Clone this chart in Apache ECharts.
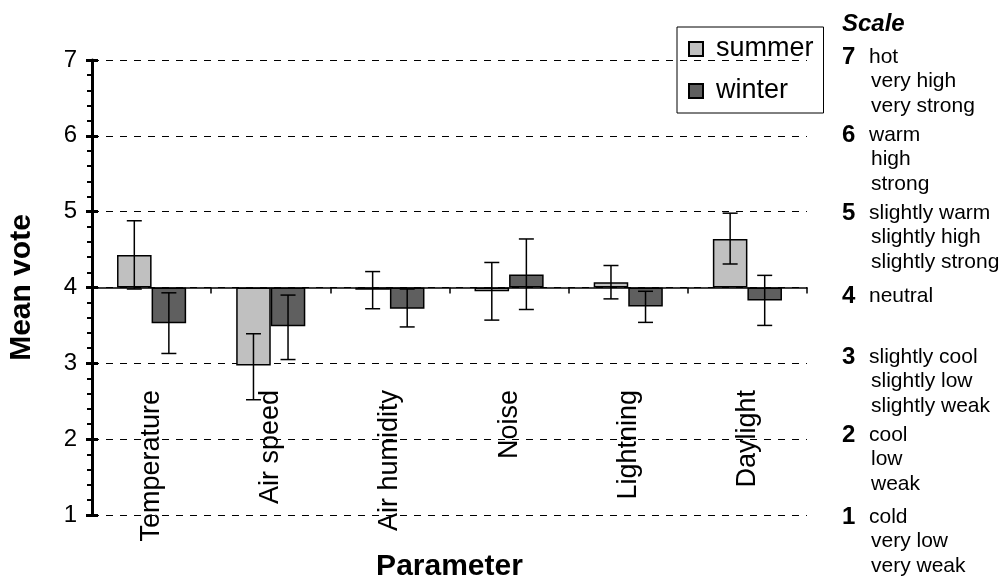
<!DOCTYPE html>
<html>
<head>
<meta charset="utf-8">
<style>
  html, body { margin: 0; padding: 0; background: #fff; }
  #chart { width: 1002px; height: 580px; }
</style>
<script src="https://cdn.jsdelivr.net/npm/echarts@6/dist/echarts.min.js"></script>
</head>
<body>
<div id="chart"></div>
<script>
// Mean comfort votes per parameter (7-point scale, 4 = neutral), with error-bar limits
const categories = ['Temperature', 'Air speed', 'Air humidity', 'Noise', 'Lightning', 'Daylight'];
const summerMean = [4.43, 2.97, 3.97, 3.95, 4.07, 4.64];
const summerLow  = [3.98, 2.52, 3.72, 3.57, 3.85, 4.31];
const summerHigh = [4.88, 3.39, 4.21, 4.33, 4.29, 4.98];
const winterMean = [3.53, 3.49, 3.72, 4.17, 3.75, 3.83];
const winterLow  = [3.13, 3.05, 3.48, 3.71, 3.54, 3.50];
const winterHigh = [3.93, 3.90, 3.98, 4.64, 3.95, 4.16];
const yTicks = [1, 2, 3, 4, 5, 6, 7];
const NEUTRAL = 4;

// Verbal meaning of each scale point
const scaleLevels = [7, 6, 5, 4, 3, 2, 1];
const scaleTerms = [
  ['hot', 'very high', 'very strong'],
  ['warm', 'high', 'strong'],
  ['slightly warm', 'slightly high', 'slightly strong'],
  ['neutral'],
  ['slightly cool', 'slightly low', 'slightly weak'],
  ['cool', 'low', 'weak'],
  ['cold', 'very low', 'very weak']
];

const FONT = '"Liberation Sans", Arial, sans-serif';
const BAR_GAP_RATIO = 0.42;

// Bars grow from the neutral point, so values are plotted as offsets from 4
const offset = v => +(v - NEUTRAL).toFixed(3);

function errorBarItem(side) {
  return function (params, api) {
    const idx = api.value(0);
    const base = api.coord([idx, 0]);
    const band = api.size([1, 0])[0];
    const barW = band * (1 - BAR_GAP_RATIO) / 2;
    const x = base[0] + side * barW / 2;
    const top = api.coord([idx, api.value(2)])[1];
    const bot = api.coord([idx, api.value(1)])[1];
    const cap = 7.5;
    const st = { stroke: '#000', lineWidth: 1.5 };
    return {
      type: 'group',
      children: [
        { type: 'line', shape: { x1: x, y1: top, x2: x, y2: bot }, style: st },
        { type: 'line', shape: { x1: x - cap, y1: top, x2: x + cap, y2: top }, style: st },
        { type: 'line', shape: { x1: x - cap, y1: bot, x2: x + cap, y2: bot }, style: st }
      ]
    };
  };
}

const chart = echarts.init(document.getElementById('chart'), null, { renderer: 'canvas' });

// Text block on the right explaining the scale
const scaleY = [57, 135, 213, 296, 357, 435, 517];
const LINE_STEP = 24.5;
const graphics = [{
  type: 'text', x: 842, y: 24,
  style: { text: 'Scale', font: 'italic bold 24px ' + FONT, fill: '#000', verticalAlign: 'middle' }
}];
scaleLevels.forEach((lvl, i) => {
  graphics.push({
    type: 'text', x: 842, y: scaleY[i],
    style: { text: String(lvl), font: 'bold 24px ' + FONT, fill: '#000', verticalAlign: 'middle' }
  });
  scaleTerms[i].forEach((term, j) => {
    graphics.push({
      type: 'text', x: j === 0 ? 869 : 871, y: scaleY[i] + j * LINE_STEP,
      style: { text: term, font: '21px ' + FONT, fill: '#000', verticalAlign: 'middle' }
    });
  });
});

const yMin = yTicks[0] - NEUTRAL, yMax = yTicks[yTicks.length - 1] - NEUTRAL;

chart.setOption({
  animation: false,
  backgroundColor: '#fff',
  textStyle: { fontFamily: FONT, color: '#000' },
  grid: { left: 92, right: 195, top: 60, bottom: 65, containLabel: false, outerBoundsMode: 'none' },
  legend: {
    data: ['summer', 'winter'],
    orient: 'vertical',
    left: 677, top: 27,
    padding: [8, 10, 8, 11],
    itemWidth: 14, itemHeight: 14, itemGap: 14,
    borderColor: '#000', borderWidth: 1,
    icon: 'rect',
    textStyle: { fontSize: 27, lineHeight: 28, color: '#000', fontFamily: FONT, padding: [0, 0, 0, 8] }
  },
  xAxis: [{
    // category names and axis title, drawn inside the lower half of the plot
    type: 'category',
    data: categories,
    position: 'bottom',
    axisLine: { show: false, onZero: false },
    axisTick: { show: false },
    axisLabel: { rotate: 90, margin: -125, fontSize: 27, color: '#000', fontFamily: FONT },
    splitLine: { show: false },
    name: 'Parameter',
    nameLocation: 'middle',
    nameGap: 37,
    nameTextStyle: { fontSize: 30, fontWeight: 'bold', color: '#000', fontFamily: FONT }
  }, {
    // neutral baseline with category boundary ticks
    type: 'category',
    data: categories,
    position: 'bottom',
    axisLine: { show: true, onZero: true, lineStyle: { color: '#000', width: 1.5 } },
    axisTick: { show: true, length: 6, lineStyle: { color: '#000', width: 1.5 } },
    axisLabel: { show: false },
    splitLine: { show: false }
  }],
  yAxis: [{
    type: 'value',
    min: yMin, max: yMax, interval: 1,
    axisLine: { show: true, onZero: false, lineStyle: { color: '#000', width: 3 } },
    axisTick: { show: true, length: 6, lineStyle: { color: '#000', width: 3 } },
    minorTick: { show: true, splitNumber: 5, length: 5, lineStyle: { color: '#000', width: 2 } },
    axisLabel: { fontSize: 24, color: '#000', margin: 15, fontFamily: FONT, formatter: v => String(v + NEUTRAL) },
    splitLine: { show: true, lineStyle: { color: '#000', width: 1, type: [7, 7] } },
    name: 'Mean vote',
    nameLocation: 'middle',
    nameGap: 55,
    nameRotate: 90,
    nameTextStyle: { fontSize: 30, fontWeight: 'bold', color: '#000', fontFamily: FONT }
  }, {
    // inner half of the major ticks so they cross the axis line
    type: 'value', position: 'left', offset: 0,
    min: yMin, max: yMax, interval: 1,
    axisLine: { show: false, onZero: false },
    axisTick: { show: true, inside: true, length: 6, lineStyle: { color: '#000', width: 3 } },
    axisLabel: { show: false },
    splitLine: { show: false }
  }],
  series: [{
    name: 'summer',
    type: 'bar',
    data: summerMean.map(offset),
    barGap: '0%',
    barCategoryGap: (BAR_GAP_RATIO * 100) + '%',
    itemStyle: { color: '#c0c0c0', borderColor: '#000', borderWidth: 1.5 },
    z: 3
  }, {
    name: 'winter',
    type: 'bar',
    data: winterMean.map(offset),
    barGap: '0%',
    barCategoryGap: (BAR_GAP_RATIO * 100) + '%',
    itemStyle: { color: '#5f5f5f', borderColor: '#000', borderWidth: 1.5 },
    z: 3
  }, {
    name: 'summer range',
    type: 'custom',
    renderItem: errorBarItem(-1),
    data: categories.map((c, i) => [i, offset(summerLow[i]), offset(summerHigh[i])]),
    encode: { x: 0, y: [1, 2] },
    z: 5
  }, {
    name: 'winter range',
    type: 'custom',
    renderItem: errorBarItem(1),
    data: categories.map((c, i) => [i, offset(winterLow[i]), offset(winterHigh[i])]),
    encode: { x: 0, y: [1, 2] },
    z: 5
  }],
  graphic: graphics
});
</script>
</body>
</html>
